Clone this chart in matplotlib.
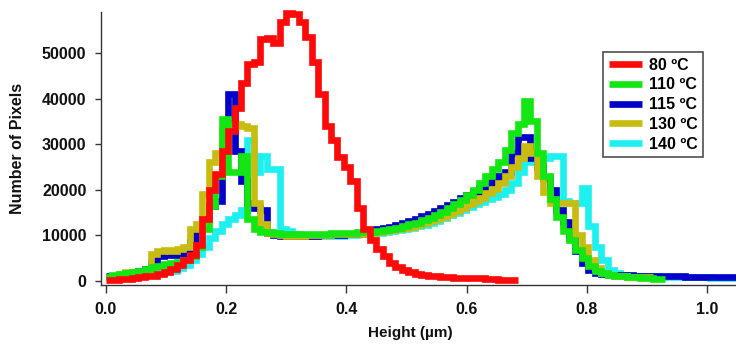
import numpy as np
import matplotlib
matplotlib.use("Agg")
import matplotlib.pyplot as plt
from matplotlib.lines import Line2D

plt.rcParams["font.family"] = ["Liberation Sans", "DejaVu Sans"]
plt.rcParams["font.weight"] = "bold"

# Histogram bin width along the height axis (µm); every series starts at 0
BIN_W = 0.0107

labels = ["80 ºC", "110 ºC", "115 ºC", "130 ºC", "140 ºC"]
colors = ["#ff0a0a", "#14e614", "#0000c8", "#c8bc10", "#1ef0f0"]

counts_80 = [
    200, 200, 400, 500, 700, 800, 1000, 1200, 1500, 1900, 2600, 3400, 4500, 5800,
    8000, 13500, 20000, 23500, 28500, 33000, 38000, 43500, 47500, 48000, 53000, 53300, 52200, 56800,
    58800, 58500, 56800, 53500, 48000, 41000, 34000, 31000, 27300, 25000, 22000, 16000, 11500, 9000,
    7000, 5500, 4000, 3100, 2500, 2000, 1600, 1300, 1100, 1000, 900, 800, 750, 700, 650, 600,
    550, 450, 350, 300, 250, 250,
]

counts_110 = [
    800, 1300, 1600, 1800, 2000, 2200, 2700, 3000, 3300, 3700, 4000, 4200, 4700, 5500,
    7500, 11500, 16500, 23000, 35500, 24000, 24000, 27500, 13500, 11500, 10800,
    10700, 10500, 10300, 10200, 10200, 10200, 10300, 10300, 10400, 10400, 10500, 10500, 10600, 10600,
    10700, 10700,
    10800, 11000, 11200, 11400, 11700, 12000, 12400, 12800, 13300,
    13800, 14500, 15200, 16000, 16800, 17700,
    18800, 20000, 21500, 23000, 24500, 26000, 28700, 32500,
    34500, 39500, 35000, 28000, 23000, 18000, 14000, 11000, 9000, 6800, 5000, 3300, 2300, 1700,
    1400, 1100, 1000, 900, 800, 700, 600, 500, 450,
]

counts_115 = [
    1000, 1200, 1400, 1700, 2000, 2200, 2600, 4000, 5500, 6000, 5800, 5600, 6000, 8500,
    11000, 13500, 16500, 17500, 30000, 41000, 28500, 22000, 17000, 16000, 15500,
    10500, 10000, 9900, 9800, 9800, 9800, 9900, 9900, 10000, 10000, 10100, 10100, 10200, 10300,
    10400, 10600,
    11000, 11300, 11600, 11900, 12300, 12700, 13200, 13700, 14200, 14800, 15400, 16000, 16700,
    17400, 18100, 18800, 19500, 20500, 21500, 22000, 23000, 24000, 28000,
    31500, 31500, 27000, 25000, 22500, 20000, 15500, 13000, 9500, 6500, 4000, 2500, 1800, 1500,
    1400, 1300,
    1300, 1250, 1200, 1200, 1150, 1100, 1100, 1050, 1000, 1000, 950, 950, 900, 900, 850, 850,
    800, 800,
]

counts_130 = [
    900, 1200, 1600, 2000, 2000, 2000, 2200, 6000, 6500, 6800, 6500, 7000, 7500, 11500,
    12500, 19000, 26000, 28000, 33000, 34000, 34500, 34000, 33500, 17000, 12500,
    10500, 10200, 10000, 9900, 9900, 9900, 10000, 10000, 10100, 10100, 10200, 10200, 10300, 10300,
    10400, 10400,
    10500, 10700, 10900, 11100, 11300, 11600, 11900, 12300, 12700, 13100, 13600, 14100, 14700,
    15300, 16000, 16800, 17500, 18300, 19200, 20200, 21500, 23000, 25000,
    27000, 29500, 28000, 23000, 19500, 17000, 17000, 17000, 17000, 10000, 7500, 4500, 2800, 1800,
    1400, 1200, 1000, 900, 850, 800, 800,
]

counts_140 = [
    700, 900, 1000, 1100, 1200, 1300, 1400, 1500, 1700, 1900, 2200, 2800, 3600, 4500, 6000,
    7500, 9500, 11000, 12500, 13500, 14500, 15500,
    31000, 24000, 27500, 24500, 24500, 11500,
    11000, 10300, 10000, 9900, 9800, 9800, 9800, 9900, 9900, 10000, 10100, 10200, 10300,
    10300, 10500, 10700, 10900, 11100, 11400, 11700, 12000, 12300, 12700, 13200, 13800, 14400,
    15000, 15600, 16200, 16800, 17400, 18000, 18500, 19000, 20000, 21500,
    24000, 26800, 26000, 25500, 27000, 27500, 27500, 17500, 17000, 17000, 20500, 12000, 7500,
    4500, 2500, 1800,
    1400, 1200, 1100, 1050, 1000, 1000, 950, 950, 900, 900, 850, 850, 800, 800, 750, 750,
    700, 700,
]

series = [counts_80, counts_110, counts_115, counts_130, counts_140]
# stacking: 80 ºC on top, then 110, 130, 115, 140 ºC underneath
layer = [8, 7, 5, 6, 4]
x_ticks = [0.0, 0.2, 0.4, 0.6, 0.8, 1.0]
y_ticks = [0, 10000, 20000, 30000, 40000, 50000]

LW = 4.8
fig = plt.figure(figsize=(7.36, 3.45), dpi=100)
ax = fig.add_axes([101 / 736, 1 - 285 / 345, 635 / 736, 273 / 345])

for vals, col, z in zip(series, colors, layer):
    vals = np.asarray(vals, dtype=float)
    edges = np.arange(len(vals) + 1) * BIN_W
    ax.stairs(vals, edges, baseline=None, color=col, lw=LW, zorder=z, clip_on=False)

ax.set_xlim(-0.0083, 1.0483)
ax.set_ylim(-877, 58990)
ax.set_xticks(x_ticks)
ax.set_xticklabels([f"{t:.1f}" for t in x_ticks])
ax.set_yticks(y_ticks)
ax.set_yticklabels([str(t) for t in y_ticks])

for side in ("top", "right"):
    ax.spines[side].set_visible(False)
for side in ("left", "bottom"):
    ax.spines[side].set_color("#333333")
    ax.spines[side].set_linewidth(1.0)

ax.tick_params(axis="x", direction="out", length=6, width=1, colors="#333333",
               labelcolor="#111111", labelsize=11.5, pad=6)
ax.tick_params(axis="y", direction="out", length=4.5, width=1, colors="#333333",
               labelcolor="#111111", labelsize=11.5, pad=6)

fig.text(17.5 / 736, 1 - 148 / 345, "Number of Pixels", rotation=90,
         ha="center", va="center", fontsize=11.5, fontweight="bold", color="#111111")
fig.text(410 / 736, 1 - 333 / 345, "Height (µm)", ha="center", va="center",
         fontsize=11, fontweight="bold", color="#111111")

handles = [Line2D([0], [0], color=c, lw=LW, solid_capstyle="butt") for c in colors]
leg = ax.legend(handles, labels, loc="upper left", bbox_to_anchor=(0.7906, 0.8535),
                frameon=True, fancybox=False, borderaxespad=0, fontsize=11.5,
                handlelength=2.1, handletextpad=0.4, labelspacing=0.3,
                borderpad=0.35)
leg.get_frame().set_edgecolor("#222222")
leg.get_frame().set_linewidth(1.2)
leg.set_zorder(20)

fig.savefig("out.png", dpi=100)
